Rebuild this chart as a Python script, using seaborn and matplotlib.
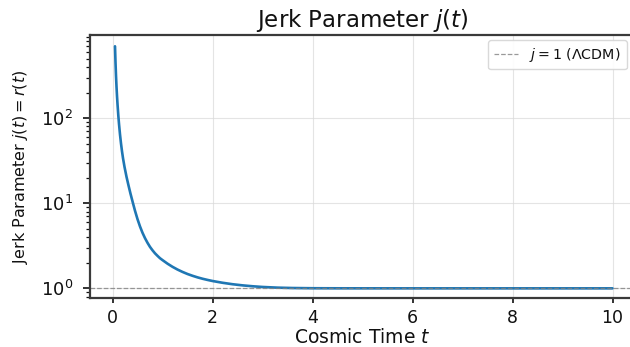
import matplotlib
matplotlib.use("Agg")
import matplotlib.pyplot as plt
import seaborn as sns
import pandas as pd

# Jerk parameter samples along cosmic time
cosmic_time = [0.05, 0.06, 0.07, 0.08, 0.09, 0.10, 0.116, 0.13, 0.15, 0.17,
               0.19, 0.21, 0.24, 0.28, 0.32, 0.36, 0.41, 0.45, 0.50, 0.55,
               0.60, 0.65, 0.70, 0.75, 0.80, 0.85, 0.90, 0.95, 1.0, 1.1,
               1.2, 1.3, 1.4, 1.5, 1.6, 1.7, 1.8, 1.9, 2.0, 2.2,
               2.4, 2.6, 2.8, 3.0, 3.3, 3.6, 4.0, 4.5, 5.0, 6.0,
               7.0, 8.0, 9.0, 10.0]
jerk = [700, 452, 316, 235, 183, 147, 108, 85.8, 64.4, 50.4,
        40.8, 33.9, 26.8, 20.5, 16.2, 12.96, 10.0, 8.17, 6.51, 5.34,
        4.50, 3.89, 3.43, 3.07, 2.80, 2.58, 2.41, 2.26, 2.148, 1.950,
        1.791, 1.663, 1.560, 1.474, 1.405, 1.346, 1.297, 1.256, 1.220, 1.163,
        1.118, 1.084, 1.058, 1.038, 1.019, 1.0088, 1.0028, 1.0009, 1.0003, 1.00002,
        1.0, 1.0, 1.0, 1.0]

lcdm_value = 1.0
lcdm_label = r"$j = 1$ ($\Lambda$CDM)"

df = pd.DataFrame({"t": cosmic_time, "j": jerk})

sns.set_theme(style="ticks")
plt.rcParams.update({
    "font.family": ["DejaVu Sans"],
    "axes.edgecolor": "#3a3a3a",
    "axes.linewidth": 1.6,
    "xtick.direction": "out",
    "ytick.direction": "out",
    "xtick.color": "#111111",
    "ytick.color": "#111111",
    "text.color": "#111111",
    "axes.labelcolor": "#111111",
})

fig = plt.figure(figsize=(6.30, 3.47), dpi=100)
ax = fig.add_axes([89.5 / 630, 49 / 347, 545.5 / 630, 263 / 347])

sns.lineplot(data=df, x="t", y="j", ax=ax, color="#1f77b4", linewidth=1.9)
ax.axhline(lcdm_value, color="gray", linestyle="--", linewidth=0.9, alpha=0.8,
           label=lcdm_label)

ax.set_yscale("log")
ax.set_xlim(-0.46, 10.45)
ax.set_ylim(0.77, 950)
ax.set_xticks([0, 2, 4, 6, 8, 10])

ax.grid(True, which="major", color="#d9d9d9", alpha=0.7, linewidth=0.8)
ax.tick_params(axis="x", which="major", labelsize=12.5, length=3.5, width=1.2, pad=4.5)
ax.tick_params(axis="y", which="major", labelsize=13, length=5, width=1.2, pad=7)
ax.tick_params(axis="y", which="minor", length=3, width=0.9)

ax.set_title(r"Jerk Parameter $j(t)$", fontsize=16.5, pad=6)
ax.set_xlabel(r"Cosmic Time $t$", fontsize=13.5)
ax.xaxis.set_label_coords(0.5, -0.113)
ax.set_ylabel(r"Jerk Parameter $j(t) = r(t)$", fontsize=11.5)
ax.yaxis.set_label_coords(-0.109, 0.497)

ax.legend(loc="upper left", bbox_to_anchor=(0.7305, 0.981), borderaxespad=0,
          fontsize=10.3, frameon=True, framealpha=0.9, edgecolor="#d5d5d5",
          handlelength=1.7)

fig.savefig("out.png", dpi=100)
